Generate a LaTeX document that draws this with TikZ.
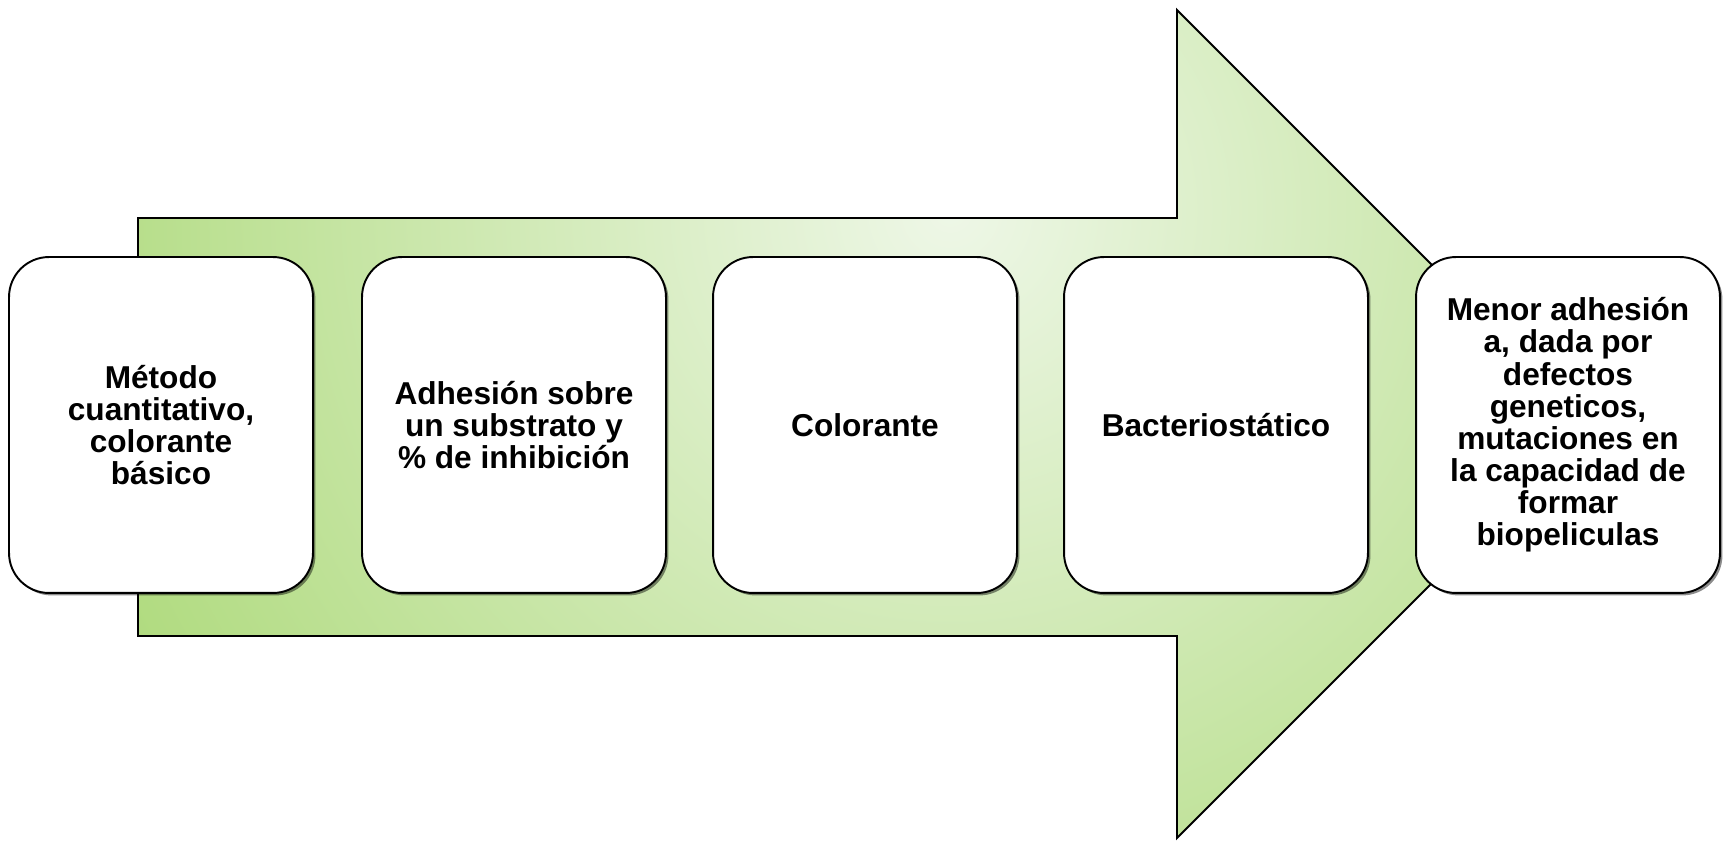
\documentclass[tikz,border=0pt]{standalone}
\usepackage{fontspec}
\setmainfont{Liberation Sans}
\usetikzlibrary{shadows}
\definecolor{arrowgreen}{RGB}{163,213,105}
\definecolor{arrowlight}{RGB}{238,247,231}
\tikzset{
    stage/.style={draw=black, line width=1.1pt, fill=white, rounded corners=0.8cm,
        minimum width=6.08cm, minimum height=6.72cm, inner sep=0pt, align=center,
        font=\bfseries\fontsize{18}{18.3}\selectfont,
        drop shadow={shadow xshift=1.4pt, shadow yshift=-1.4pt, opacity=0.45, fill=black}}
}
\begin{document}
\begin{tikzpicture}[x=0.02cm,y=-0.02cm]
    \useasboundingbox (0,0) rectangle (1729,844);
    % big arrow
    \begin{scope}
        \clip (138,218) -- (1177,218) -- (1177,10) -- (1591,424) -- (1177,838) -- (1177,636) -- (138,636) -- cycle;
        \shade[inner color=arrowlight, outer color=arrowgreen] (950,210) circle (1120);
    \end{scope}
    \draw[line width=1.1pt] (138,218) -- (1177,218) -- (1177,10) -- (1591,424) -- (1177,838) -- (1177,636) -- (138,636) -- cycle;
    % stages
    \node[stage] (metodo) at (161,425) {Método\\cuantitativo,\\colorante\\básico};
    \node[stage] (adhesion) at (514,425) {Adhesión sobre\\un substrato y\\\% de inhibición};
    \node[stage] (colorante) at (865,425) {Colorante};
    \node[stage] (bacterio) at (1216,425) {Bacteriostático};
    \node[stage] (menor) at (1568,425) {Menor adhesión\\a, dada por\\defectos\\geneticos,\\mutaciones en\\la capacidad de\\formar\\biopeliculas};
\end{tikzpicture}
\end{document}
